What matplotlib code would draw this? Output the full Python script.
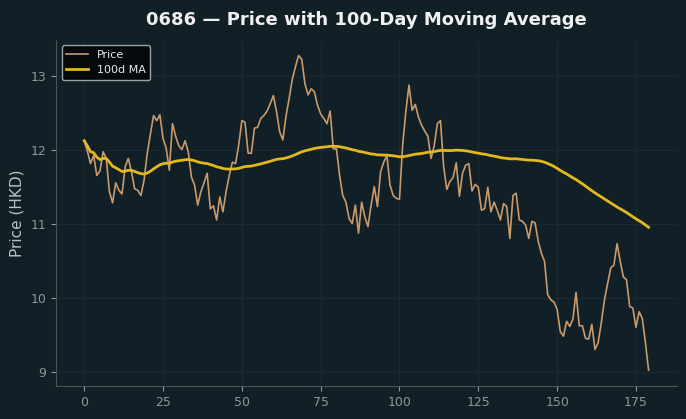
import matplotlib.pyplot as plt
import numpy as np
import pandas as pd

# daily closing prices
price = [
    12.12, 11.98, 11.81, 11.92, 11.65, 11.71, 11.97, 11.88, 11.43, 11.28,
    11.55, 11.45, 11.40, 11.77, 11.88, 11.70, 11.47, 11.45, 11.38, 11.59,
    11.95, 12.21, 12.46, 12.39, 12.47, 12.15, 12.02, 11.72, 12.35, 12.18,
    12.05, 12.00, 12.12, 11.97, 11.63, 11.52, 11.25, 11.43, 11.55, 11.68,
    11.20, 11.24, 11.05, 11.36, 11.16, 11.43, 11.65, 11.83, 11.81, 12.06,
    12.39, 12.37, 11.95, 11.95, 12.29, 12.30, 12.42, 12.46, 12.52, 12.62,
    12.73, 12.51, 12.24, 12.13, 12.45, 12.69, 12.95, 13.12, 13.27, 13.22,
    12.89, 12.74, 12.82, 12.78, 12.60, 12.48, 12.42, 12.35, 12.52, 12.01,
    12.01, 11.65, 11.38, 11.29, 11.07, 11.00, 11.25, 10.87, 11.29, 11.09,
    10.96, 11.25, 11.50, 11.23, 11.70, 11.83, 11.92, 11.52, 11.38, 11.34,
    11.33, 12.06, 12.51, 12.87, 12.53, 12.61, 12.44, 12.33, 12.25, 12.18,
    11.88, 12.05, 12.35, 12.39, 11.77, 11.46, 11.57, 11.62, 11.82, 11.37,
    11.68, 11.79, 11.81, 11.44, 11.53, 11.49, 11.18, 11.20, 11.49, 11.16,
    11.29, 11.18, 11.05, 11.27, 11.23, 10.80, 11.38, 11.41, 11.05, 11.03,
    10.98, 10.80, 11.03, 11.01, 10.76, 10.60, 10.49, 10.04, 9.97, 9.94,
    9.84, 9.54, 9.48, 9.68, 9.61, 9.71, 10.07, 9.62, 9.62, 9.45,
    9.44, 9.64, 9.30, 9.39, 9.66, 9.97, 10.19, 10.40, 10.44, 10.73,
    10.49, 10.28, 10.24, 9.88, 9.86, 9.60, 9.81, 9.72, 9.39, 9.02,
]
ticker = "0686"
window = 100

bg = "#111f26"
s = pd.Series(price)
ma = s.rolling(window, min_periods=1).mean()
days = np.arange(len(price))

fig = plt.figure(figsize=(6.86, 4.19), dpi=100, facecolor=bg)
ax = fig.add_axes([0.0816, 0.079, 0.905, 0.826], facecolor=bg)

ax.plot(days, s, color="#c99a6b", lw=1.2, label="Price")
ax.plot(days, ma, color="#e3b81c", lw=2.0, label=f"{window}d MA")

ax.grid(True, color="#1d2c33", lw=0.6)
for side in ("top", "right"):
    ax.spines[side].set_visible(False)
for side in ("left", "bottom"):
    ax.spines[side].set_color("#4a5459")
ax.tick_params(colors="#8c989d", labelsize=9)
ax.set_yticks([9, 10, 11, 12, 13])
ax.set_xticks([0, 25, 50, 75, 100, 125, 150, 175])

ax.set_ylabel("Price (HKD)", color="#b8c2c6", fontsize=11)
ax.set_title(f"{ticker} — Price with {window}-Day Moving Average",
             color="#f0f0f0", fontsize=13, fontweight="bold", pad=11)

leg = ax.legend(loc="upper left", fontsize=8, facecolor="#05090b",
                edgecolor="#9aa3a7", labelcolor="#e8e8e8", framealpha=1)

fig.savefig("out.png", dpi=100, facecolor=bg)
